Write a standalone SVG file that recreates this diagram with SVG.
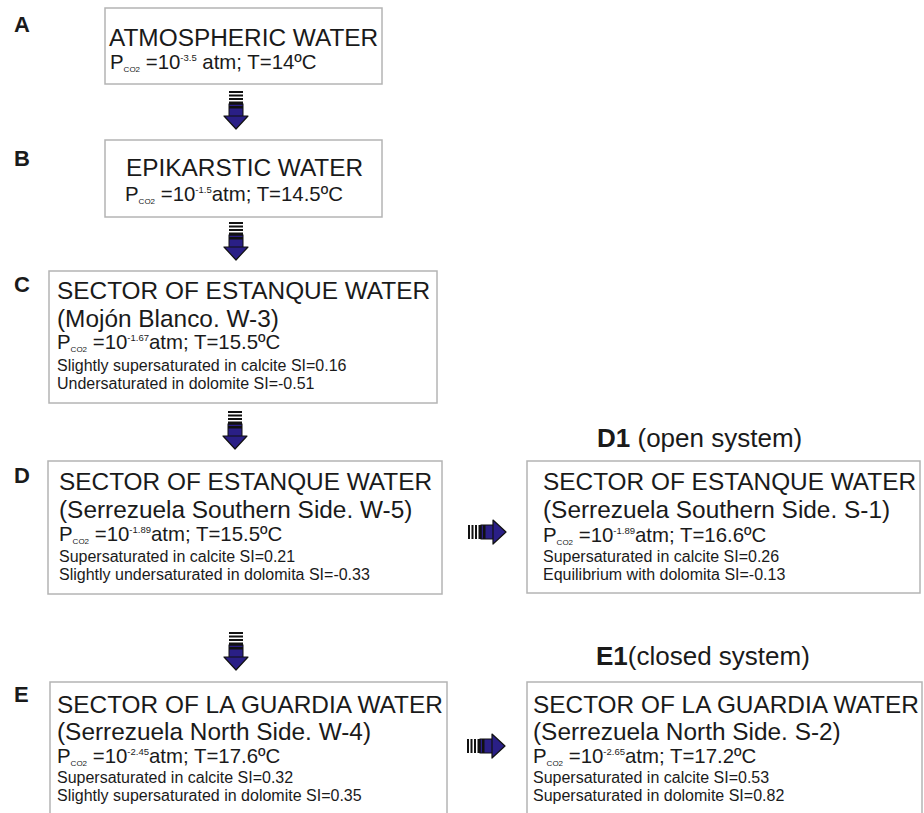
<svg xmlns="http://www.w3.org/2000/svg" xmlns:xlink="http://www.w3.org/1999/xlink" width="924" height="813" viewBox="0 0 924 813">
<style>
text { font-family: "Liberation Sans", Arial, sans-serif; fill: #1a1a1a; }
.box { fill: #ffffff; stroke: #b4b4b4; stroke-width: 1.5; }
.t24 { font-size: 24.4px; }
.t20 { font-size: 20.4px; }
.t16 { font-size: 16px; }
.sub { font-size: 8px; fill: #1a1a1a; }
.sup { font-size: 9.5px; }
.lab { font-size: 22px; font-weight: bold; }
.hd { font-size: 26px; }
.hdb { font-weight: bold; }
</style>
<defs>
  <g id="va">
    <rect x="-7" y="0" width="14" height="27" fill="#ffffff"/>
    <rect x="-7" y="13" width="14" height="14" fill="#2a1f86" stroke="#111" stroke-width="1"/>
    <rect x="-7" y="0" width="14" height="2" fill="#111"/>
    <rect x="-7" y="3.5" width="14" height="2" fill="#111"/>
    <rect x="-7" y="7" width="14" height="2" fill="#111"/>
    <rect x="-7" y="10.5" width="14" height="3" fill="#111"/>
    <rect x="-7" y="15" width="14" height="2.5" fill="#111"/>
    <polygon points="-12,25 12,25 0,38" fill="#2a1f86" stroke="#111" stroke-width="1.2" stroke-linejoin="round"/>
  </g>
</defs>
<rect x="0" y="0" width="924" height="813" fill="#ffffff"/>

<g id="labels">
  <text class="lab" x="14" y="32">A</text>
  <text class="lab" x="14" y="166">B</text>
  <text class="lab" x="14" y="292">C</text>
  <text class="lab" x="14" y="483">D</text>
  <text class="lab" x="14" y="702">E</text>
  <text class="hd" x="597" y="447"><tspan class="hdb">D1</tspan> (open system)</text>
  <text class="hd" x="596" y="665"><tspan class="hdb">E1</tspan>(closed system)</text>
</g>

<g id="node-A">
  <rect class="box" x="105" y="8" width="277" height="76"/>
  <text class="t24" x="109" y="46">ATMOSPHERIC WATER</text>
  <text class="t20" x="110" y="69">P<tspan class="sub" dy="3">CO2</tspan><tspan dy="-3"> =10</tspan><tspan class="sup" dy="-8">-3.5</tspan><tspan dy="8"> atm; T=14ºC</tspan></text>
</g>

<g id="node-B">
  <rect class="box" x="105" y="140" width="277" height="77"/>
  <text class="t24" x="126" y="176">EPIKARSTIC WATER</text>
  <text class="t20" x="125" y="201">P<tspan class="sub" dy="3">CO2</tspan><tspan dy="-3"> =10</tspan><tspan class="sup" dy="-8">-1.5</tspan><tspan dy="8">atm; T=14.5ºC</tspan></text>
</g>

<g id="node-C">
  <rect class="box" x="49" y="271" width="388" height="132"/>
  <text class="t24" x="57" y="299">SECTOR OF ESTANQUE WATER</text>
  <text class="t24" x="57" y="327">(Mojón Blanco. W-3)</text>
  <text class="t20" x="57" y="349">P<tspan class="sub" dy="3">CO2</tspan><tspan dy="-3"> =10</tspan><tspan class="sup" dy="-8">-1.67</tspan><tspan dy="8">atm; T=15.5ºC</tspan></text>
  <text class="t16" x="57" y="371">Slightly supersaturated in calcite SI=0.16</text>
  <text class="t16" x="57" y="389">Undersaturated in dolomite SI=-0.51</text>
</g>

<g id="node-D">
  <rect class="box" x="48" y="461" width="394" height="133"/>
  <text class="t24" x="59" y="490">SECTOR OF ESTANQUE WATER</text>
  <text class="t24" x="59" y="518">(Serrezuela Southern Side. W-5)</text>
  <text class="t20" x="59" y="541">P<tspan class="sub" dy="3">CO2</tspan><tspan dy="-3"> =10</tspan><tspan class="sup" dy="-8">-1.89</tspan><tspan dy="8">atm; T=15.5ºC</tspan></text>
  <text class="t16" x="59" y="562">Supersaturated in calcite SI=0.21</text>
  <text class="t16" x="59" y="580">Slightly undersaturated in dolomita SI=-0.33</text>
</g>

<g id="node-D1">
  <rect class="box" x="527" y="461" width="393" height="132"/>
  <text class="t24" x="543" y="490">SECTOR OF ESTANQUE WATER</text>
  <text class="t24" x="543" y="518">(Serrezuela Southern Side. S-1)</text>
  <text class="t20" x="543" y="542">P<tspan class="sub" dy="3">CO2</tspan><tspan dy="-3"> =10</tspan><tspan class="sup" dy="-8">-1.89</tspan><tspan dy="8">atm; T=16.6ºC</tspan></text>
  <text class="t16" x="543" y="562">Supersaturated in calcite SI=0.26</text>
  <text class="t16" x="543" y="580">Equilibrium with dolomita SI=-0.13</text>
</g>

<g id="node-E">
  <rect class="box" x="50" y="682" width="397" height="150"/>
  <text class="t24" x="57" y="713">SECTOR OF LA GUARDIA WATER</text>
  <text class="t24" x="57" y="740">(Serrezuela North Side. W-4)</text>
  <text class="t20" x="57" y="763">P<tspan class="sub" dy="3">CO2</tspan><tspan dy="-3"> =10</tspan><tspan class="sup" dy="-8">-2.45</tspan><tspan dy="8">atm; T=17.6ºC</tspan></text>
  <text class="t16" x="57" y="783">Supersaturated in calcite SI=0.32</text>
  <text class="t16" x="57" y="801">Slightly supersaturated in dolomite SI=0.35</text>
</g>

<g id="node-E1">
  <rect class="box" x="527" y="682" width="395" height="150"/>
  <text class="t24" x="533" y="713">SECTOR OF LA GUARDIA WATER</text>
  <text class="t24" x="533" y="740">(Serrezuela North Side. S-2)</text>
  <text class="t20" x="533" y="763">P<tspan class="sub" dy="3">CO2</tspan><tspan dy="-3"> =10</tspan><tspan class="sup" dy="-8">-2.65</tspan><tspan dy="8">atm; T=17.2ºC</tspan></text>
  <text class="t16" x="533" y="783">Supersaturated in calcite SI=0.53</text>
  <text class="t16" x="533" y="801">Supersaturated in dolomite SI=0.82</text>
</g>

<g id="connectors">
  <use xlink:href="#va" href="#va" transform="translate(236,91)"/>
  <use xlink:href="#va" href="#va" transform="translate(236,222)"/>
  <use xlink:href="#va" href="#va" transform="translate(235,411)"/>
  <use xlink:href="#va" href="#va" transform="translate(236,632)"/>
  <use xlink:href="#va" href="#va" transform="translate(468,532) rotate(-90)"/>
  <use xlink:href="#va" href="#va" transform="translate(467,746) rotate(-90)"/>
</g>
</svg>
